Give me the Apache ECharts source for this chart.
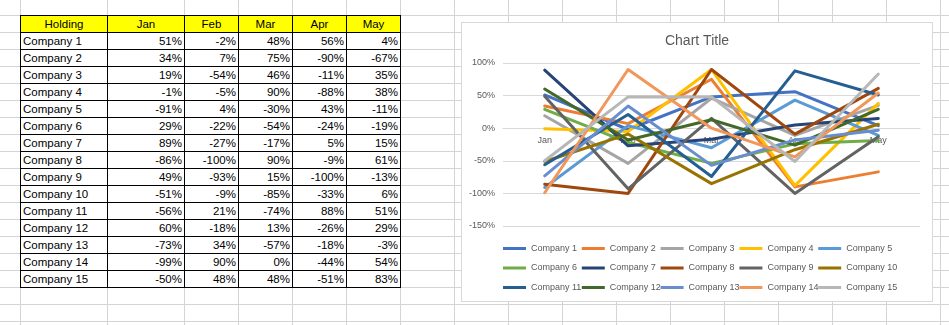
<!DOCTYPE html>
<html>
<head>
<meta charset="utf-8">
<script src="https://cdn.jsdelivr.net/npm/echarts@6/dist/echarts.min.js"></script>
<style>
html,body{margin:0;padding:0;background:#fff;width:949px;height:325px;overflow:hidden;}
#sheet{position:absolute;left:0;top:0;width:949px;height:325px;}
.gl{position:absolute;background:#d4d4d4;}
table{position:absolute;left:20px;top:15px;border-collapse:collapse;font-family:"Liberation Sans",Arial,sans-serif;font-size:11.5px;color:#000;table-layout:fixed;}
td{border:1px solid #000;height:17px;padding:0 2px;background:#fff;line-height:15px;white-space:nowrap;overflow:hidden;box-sizing:border-box;}
td.h{background:#ffff00;text-align:center;}
td.n{text-align:right;}
#frame{position:absolute;left:461px;top:22px;width:472px;height:280px;box-sizing:border-box;border:1px solid #d9d9d9;background:#fff;}
#chart{position:absolute;left:462px;top:23px;width:470px;height:278px;}
</style>
</head>
<body>
<div id="sheet"></div>
<table id="tbl"></table>
<div id="frame"></div>
<div id="chart"></div>
<script>
// ---- data ----
var months = ['Jan', 'Feb', 'Mar', 'Apr', 'May'];
var headerFirst = 'Holding';
var companies = ['Company 1','Company 2','Company 3','Company 4','Company 5','Company 6','Company 7','Company 8','Company 9','Company 10','Company 11','Company 12','Company 13','Company 14','Company 15'];
var company1 = [51, -2, 48, 56, 4];
var company2 = [34, 7, 75, -90, -67];
var company3 = [19, -54, 46, -11, 35];
var company4 = [-1, -5, 90, -88, 38];
var company5 = [-91, 4, -30, 43, -11];
var company6 = [29, -22, -54, -24, -19];
var company7 = [89, -27, -17, 5, 15];
var company8 = [-86, -100, 90, -9, 61];
var company9 = [49, -93, 15, -100, -13];
var company10 = [-51, -9, -85, -33, 6];
var company11 = [-56, 21, -74, 88, 51];
var company12 = [60, -18, 13, -26, 29];
var company13 = [-73, 34, -57, -18, -3];
var company14 = [-99, 90, 0, -44, 54];
var company15 = [-50, 48, 48, -51, 83];
var yTicks = [-150, -100, -50, 0, 50, 100];
var chartTitle = 'Chart Title';

var values = [company1,company2,company3,company4,company5,company6,company7,company8,company9,company10,company11,company12,company13,company14,company15];
var colors = ['#4472C4','#ED7D31','#A5A5A5','#FFC000','#5B9BD5','#70AD47','#264478','#9E480E','#636363','#997300','#255E91','#43682B','#698ED0','#F1975A','#B7B7B7'];

// ---- spreadsheet gridlines ----
var sheet = document.getElementById('sheet');
var vx = [20,107,184,238,292,346,400,454,508,562,616,670,724,778,832,886,940];
vx.forEach(function(x){var d=document.createElement('div');d.className='gl';d.style.left=x+'px';d.style.top='0px';d.style.width='1px';d.style.height='325px';sheet.appendChild(d);});
for (var y=15; y<325; y+=17){var d=document.createElement('div');d.className='gl';d.style.left='0px';d.style.top=y+'px';d.style.width='949px';d.style.height='1px';sheet.appendChild(d);}

// ---- table ----
var widths = [87,77,54,54,54,54];
var tbl = document.getElementById('tbl');
var cg = document.createElement('colgroup');
widths.forEach(function(w){var c=document.createElement('col');c.style.width=w+'px';cg.appendChild(c);});
tbl.appendChild(cg);
var tr = document.createElement('tr');
[headerFirst].concat(months).forEach(function(t){var td=document.createElement('td');td.className='h';td.textContent=t;tr.appendChild(td);});
tbl.appendChild(tr);
companies.forEach(function(name,i){
  var r=document.createElement('tr');
  var td=document.createElement('td');td.textContent=name;r.appendChild(td);
  values[i].forEach(function(v){var c=document.createElement('td');c.className='n';c.textContent=v+'%';r.appendChild(c);});
  tbl.appendChild(r);
});

// ---- chart ----
var chart = echarts.init(document.getElementById('chart'));
var font = '"Liberation Sans", Arial, sans-serif';
var series = companies.map(function(name,i){
  return {name:name,type:'line',data:values[i],symbol:'none',
    lineStyle:{width:3,color:colors[i],cap:'round',join:'round'},itemStyle:{color:colors[i]},animation:false};
});
var legendTops = [221, 240.5, 260];
var legends = companies.map(function(name,i){
  var r = Math.floor(i/5), c = i%5;
  return {top:legendTops[r],left:41+c*78.8,orient:'horizontal',padding:0,itemGap:0,itemWidth:23,itemHeight:3,icon:'rect',
    data:[name],selectedMode:false,
    textStyle:{fontSize:9,color:'#595959',fontFamily:font}};
});
var plotH = 278-40-75;
chart.setOption({
  animation:false,
  color:colors,
  title:{text:chartTitle,left:'center',top:6,textStyle:{fontSize:14,fontWeight:'normal',color:'#595959',fontFamily:font}},
  legend:legends,
  grid:{left:41,right:12,top:40,bottom:75,containLabel:false},
  xAxis:{type:'category',data:months,boundaryGap:true,offset:-plotH*150/250,
    axisLine:{onZero:false,lineStyle:{color:'#d9d9d9',width:1}},axisTick:{show:false},
    axisLabel:{fontSize:9,color:'#595959',fontFamily:font,margin:8},splitLine:{show:false}},
  yAxis:{type:'value',min:yTicks[0],max:yTicks[yTicks.length-1],interval:50,
    axisLine:{show:false},axisTick:{show:false},
    axisLabel:{fontSize:9,color:'#595959',fontFamily:font,formatter:function(v){return v+'%';}},
    splitLine:{lineStyle:{color:'#d9d9d9',width:1}}},
  series:series
});
</script>
</body>
</html>
